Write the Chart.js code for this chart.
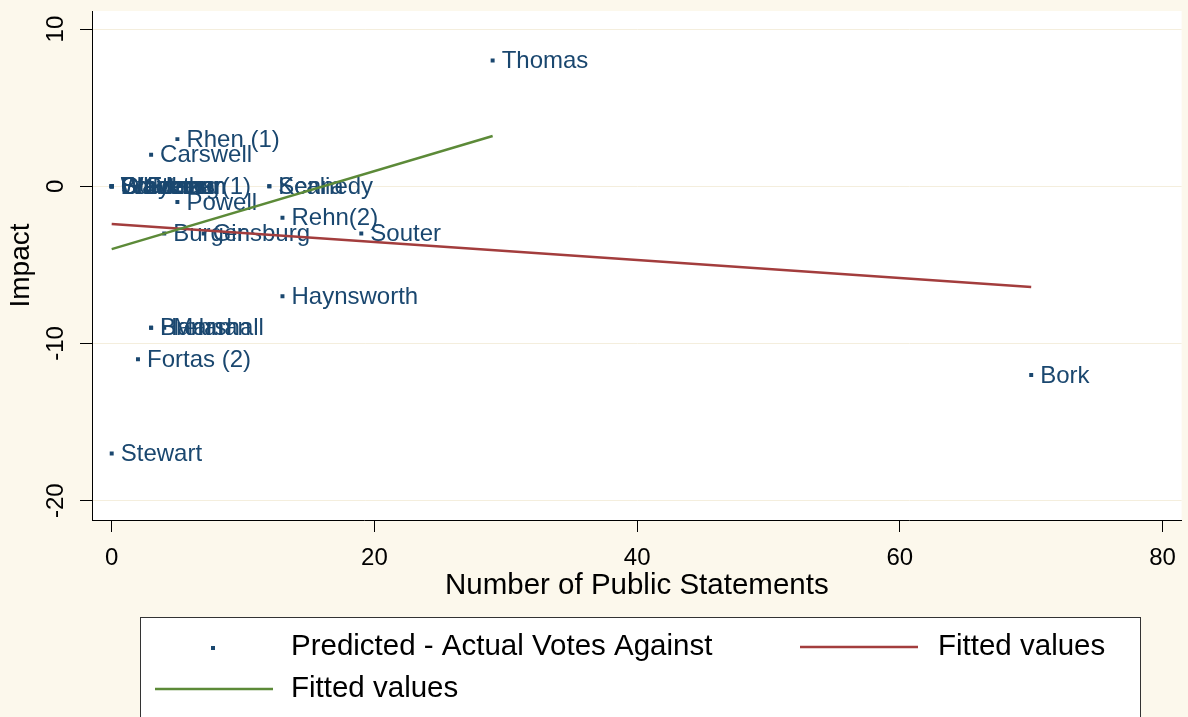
<!DOCTYPE html>
<html>
<head>
<meta charset="utf-8">
<script src="https://cdn.jsdelivr.net/npm/chart.js@4"></script>
<style>
  html, body { margin: 0; padding: 0; background: #fcf8ec; }
  #wrap { position: relative; width: 1188px; height: 717px; }
</style>
</head>
<body>
<div id="wrap"><canvas id="scatter" width="1188" height="717"></canvas></div>
<script>
// nominees, statements count and impact
const names = ['Thomas', 'Rhen (1)', 'Carswell',
  'Blackmun', 'White', 'Stevens', "O'Connor", 'Breyer', 'Goldberg', 'Whittaker', 'Fortas (1)',
  'Kennedy', 'Scalia', 'Powell', 'Rehn(2)', 'Burger', 'Ginsburg', 'Souter', 'Haynsworth',
  'Brennan', 'Harlan', 'Marshall', 'Fortas (2)', 'Bork', 'Stewart'];
const statements = [29, 5, 3,
  0, 0, 0, 0, 0, 0, 0, 2,
  12, 12, 5, 13, 4, 7, 19, 13,
  3, 3, 4, 2, 70, 0];
const impact = [8, 3, 2,
  0, 0, 0, 0, 0, 0, 0, 0,
  0, 0, -1, -2, -3, -3, -3, -7,
  -9, -9, -9, -11, -12, -17];

const fitAllX = [0, 70];
const fitAllY = [-2.4, -6.4];
const fitSubX = [0, 29];
const fitSubY = [-4.0, 3.2];

const xTicks = [0, 20, 40, 60, 80];
const yTicks = [10, 0, -10, -20];

const navy = '#1a476f';
const maroon = '#a33d3d';
const green = '#5c8a38';
const font = '"Liberation Sans", Arial, sans-serif';

const pts = statements.map((s, i) => ({ x: s, y: impact[i] }));

const bgPlugin = {
  id: 'bg',
  beforeDraw(chart) {
    const { ctx, chartArea: a } = chart;
    ctx.save();
    ctx.fillStyle = '#ffffff';
    ctx.fillRect(a.left, a.top, a.right - a.left, a.bottom - a.top);
    ctx.restore();
  }
};

const labelPlugin = {
  id: 'pointNames',
  beforeDatasetsDraw(chart) {
    const ctx = chart.ctx;
    const meta = chart.getDatasetMeta(0);
    ctx.save();
    ctx.font = '24px ' + font;
    ctx.fillStyle = navy;
    ctx.textBaseline = 'middle';
    meta.data.forEach((p, i) => ctx.fillText(names[i], p.x + 9, p.y + 1));
    ctx.restore();
  }
};

const axisText = {
  id: 'axisText',
  afterDraw(chart) {
    const ctx = chart.ctx;
    const ys = chart.scales.y;
    const a = chart.chartArea;
    ctx.save();
    ctx.fillStyle = '#000';
    ctx.textAlign = 'center';
    ctx.textBaseline = 'middle';
    ctx.font = '24px ' + font;
    yTicks.forEach(v => {
      ctx.save();
      ctx.translate(56, ys.getPixelForValue(v));
      ctx.rotate(-Math.PI / 2);
      ctx.fillText(String(v), 0, 0);
      ctx.restore();
    });
    ctx.font = '28px ' + font;
    ctx.save();
    ctx.translate(21, (a.top + a.bottom) / 2);
    ctx.rotate(-Math.PI / 2);
    ctx.fillText('Impact', 0, 0);
    ctx.restore();
    ctx.font = '29.5px ' + font;
    ctx.fillText('Number of Public Statements', (a.left + a.right) / 2, 586);

    // legend box
    const ds = chart.data.datasets;
    ctx.fillStyle = '#ffffff';
    ctx.fillRect(140, 617, 1000, 110);
    ctx.strokeStyle = '#333';
    ctx.lineWidth = 1;
    ctx.strokeRect(140.5, 617.5, 1000, 110);
    ctx.textAlign = 'left';
    ctx.fillStyle = '#000';
    ctx.font = '29.5px ' + font;
    ctx.fillText(ds[0].label, 291, 647);
    ctx.fillText(ds[1].label, 938, 647);
    ctx.fillText(ds[2].label, 291, 689);
    ctx.fillStyle = navy;
    ctx.fillRect(211, 646, 4, 4);
    ctx.lineWidth = 2.5;
    ctx.strokeStyle = ds[1].borderColor;
    ctx.beginPath(); ctx.moveTo(800, 647); ctx.lineTo(918, 647); ctx.stroke();
    ctx.strokeStyle = ds[2].borderColor;
    ctx.beginPath(); ctx.moveTo(155, 689); ctx.lineTo(273, 689); ctx.stroke();
    ctx.restore();
  }
};

new Chart(document.getElementById('scatter').getContext('2d'), {
  type: 'scatter',
  data: {
    datasets: [
      {
        label: 'Predicted - Actual Votes Against',
        data: pts,
        pointStyle: 'rect',
        pointRadius: 2.8,
        backgroundColor: navy,
        borderColor: navy,
        borderWidth: 0,
        order: 3
      },
      {
        label: 'Fitted values',
        type: 'line',
        data: fitAllX.map((x, i) => ({ x, y: fitAllY[i] })),
        borderColor: maroon,
        borderWidth: 2.5,
        pointRadius: 0,
        fill: false,
        order: 2
      },
      {
        label: 'Fitted values',
        type: 'line',
        data: fitSubX.map((x, i) => ({ x, y: fitSubY[i] })),
        borderColor: green,
        borderWidth: 2.5,
        pointRadius: 0,
        fill: false,
        order: 1
      }
    ]
  },
  options: {
    responsive: false,
    animation: false,
    layout: { padding: { top: 11, right: 5, bottom: 102, left: 0 } },
    plugins: { legend: { display: false }, tooltip: { enabled: false } },
    scales: {
      x: {
        type: 'linear',
        min: -1.5,
        max: 81.45,
        afterBuildTicks: s => { s.ticks = xTicks.map(v => ({ value: v })); },
        afterFit: s => { s.height = 95; },
        grid: { drawOnChartArea: false, tickLength: 12, tickColor: '#000', tickWidth: 1 },
        border: { color: '#000', width: 1 },
        ticks: {
          color: '#000',
          padding: 12,
          maxRotation: 0,
          font: { family: font, size: 24 }
        }
      },
      y: {
        type: 'linear',
        min: -21.23,
        max: 11.15,
        afterBuildTicks: s => { s.ticks = yTicks.map(v => ({ value: v })); },
        afterFit: s => { s.width = 92; },
        grid: { color: '#f4eedd', lineWidth: 1, tickLength: 12, tickColor: '#000' },
        border: { color: '#000', width: 1 },
        ticks: { display: false }
      }
    }
  },
  plugins: [bgPlugin, labelPlugin, axisText]
});
</script>
</body>
</html>
